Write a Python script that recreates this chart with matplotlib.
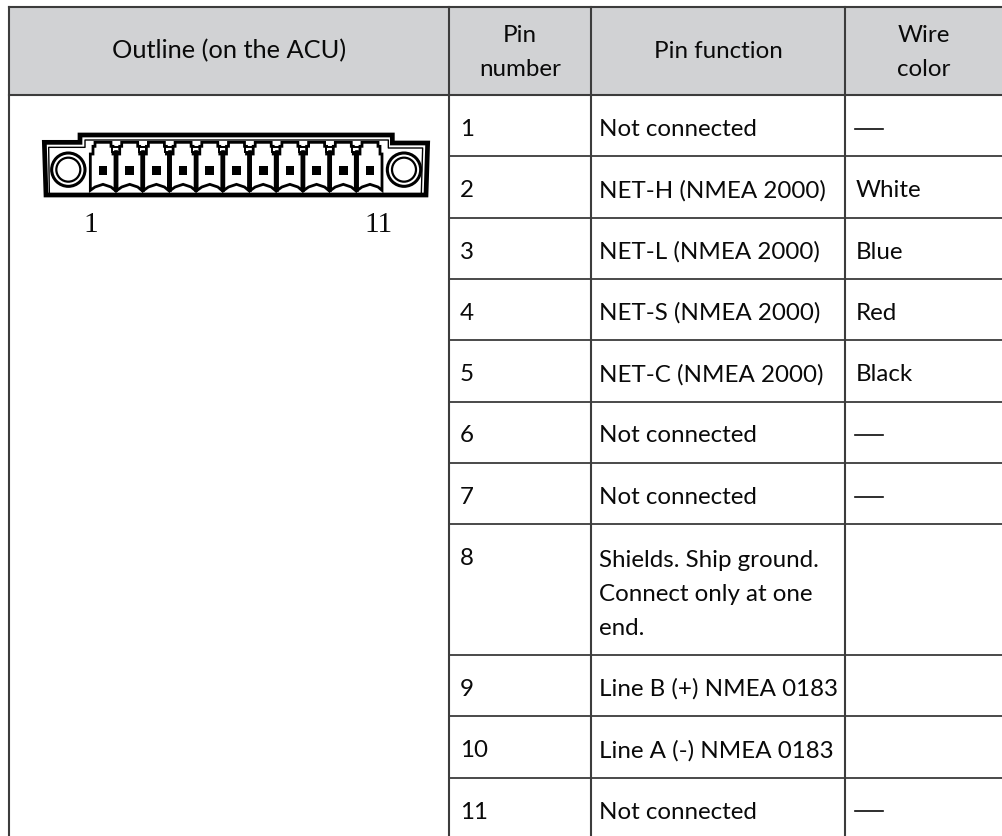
import matplotlib
matplotlib.use("Agg")
import matplotlib.pyplot as plt
from matplotlib.patches import Circle, Polygon, Rectangle

W, H = 1003, 837
FONT = "Lato"
SIZE = 17.4
SPACING = 1.78
LINE = "#3c3c3c"
HEAD = "#d1d2d4"
INK = "#0a0a0a"

headers = ["Outline (on the ACU)", "Pin\nnumber", "Pin function", "Wire\ncolor"]
header_base = [58, 76, 58, 76]
header_size = [18.3, SIZE, SIZE, SIZE]
pins = ["1", "2", "3", "4", "5", "6", "7", "8", "9", "10", "11"]
functions = ["Not connected", "NET-H (NMEA 2000)", "NET-L (NMEA 2000)",
             "NET-S (NMEA 2000)", "NET-C (NMEA 2000)", "Not connected",
             "Not connected", "Shields. Ship ground.\nConnect only at one\nend.",
             "Line B (+) NMEA 0183", "Line A (-) NMEA 0183", "Not connected"]
wires = ["\u2014", "White", "Blue", "Red", "Black", "\u2014", "\u2014", "", "", "", "\u2014"]

col_x = [9, 449.5, 590.7, 845.3, 1003]
row_y = [8, 96, 157.3, 219, 280, 341.3, 402.5, 464, 525.3, 655.7, 717.3, 778.7, 837]

fig = plt.figure(figsize=(W / 100, H / 100), dpi=100)
ax = fig.add_axes([0, 0, 1, 1])
ax.set_xlim(0, W)
ax.set_ylim(H, 0)
ax.axis("off")

# header band and grid
ax.add_patch(Rectangle((col_x[0], row_y[0]), W - col_x[0], row_y[1] - row_y[0], fc=HEAD, ec="none"))
ax.plot([col_x[0], W], [row_y[0], row_y[0]], color=LINE, lw=1.5)
ax.plot([col_x[0], W], [row_y[1], row_y[1]], color=LINE, lw=1.5)
for y in row_y[2:-1]:
    ax.plot([col_x[1], W], [y, y], color=LINE, lw=1.3)
for x in col_x[:-1]:
    ax.plot([x, x], [row_y[0], H], color=LINE, lw=1.5)

for i, h in enumerate(headers):
    ax.text((col_x[i] + col_x[i + 1]) / 2, header_base[i], h, ha="center", va="baseline", ma="center",
            family=FONT, fontsize=header_size[i], color=INK, linespacing=SPACING)

for i, pin in enumerate(pins):
    base = row_y[i + 1] + 40
    # multi-line text sits on its last line
    last = base + 35 * functions[i].count("\n")
    ax.text(460, base, pin, ha="left", va="baseline", family=FONT, fontsize=SIZE, color=INK)
    ax.text(599.5, last, functions[i], ha="left", va="baseline", family=FONT, fontsize=SIZE,
            color=INK, linespacing=SPACING)
    if wires[i] == "\u2014":
        ax.plot([855.5, 883], [base - 6.5, base - 6.5], color=INK, lw=1.2)
    elif wires[i]:
        ax.text(855.5, base, wires[i], ha="left", va="baseline", family=FONT, fontsize=SIZE, color=INK)


# connector, sketched from the crop (3x, origin 0,60)
def px(x, y):
    return x / 3, 60 + y / 3


body = [(133, 250), (240, 250), (240, 228), (1177, 228), (1177, 252), (1283, 252), (1278, 408), (138, 408)]
ax.add_patch(Polygon([px(*p) for p in body], closed=True, fc="white", ec="black", lw=3.4, joinstyle="miter"))
ax.plot(*zip(*[px(148, 400), px(146, 265), px(255, 265), px(255, 243), px(1165, 243),
               px(1165, 267), px(1268, 267), px(1264, 400)]), color="black", lw=1.0)

n_pins = len(pins)
for i in range(n_pins):
    c = 309 + 80.1 * i
    outline = [(c - 24, 250), (c + 24, 250), (c + 24, 262), (c + 30, 262), (c + 30, 285), (c + 36, 285),
               (c + 36, 394), (c + 24, 384), (c, 376), (c - 24, 384), (c - 38, 394), (c - 38, 285),
               (c - 30, 285), (c - 30, 262), (c - 24, 262)]
    ax.add_patch(Polygon([px(*p) for p in outline], closed=True, fc="white", ec="black", lw=2.0, joinstyle="miter"))
    sx, sy = px(c - 13, 322)
    ax.add_patch(Rectangle((sx, sy), 26 / 3, 26 / 3, fc="black", ec="none"))
    if i < n_pins - 1:
        ax.plot(*zip(*[px(c + 40, 280), px(c + 40, 394)]), color="black", lw=2.6)
        gx, gy = px(c + 27, 264)
        ax.add_patch(Rectangle((gx, gy), 26 / 3, 16 / 3, fc="white", ec="black", lw=1.4))

for cx in (205, 1212):
    x0, y0 = px(cx, 332)
    ax.add_patch(Circle((x0, y0), 50 / 3, fc="white", ec="black", lw=2.2))
    ax.add_patch(Circle((x0, y0), 36 / 3, fc="white", ec="black", lw=1.6))

ax.text(91, 232, "1", ha="center", va="baseline", family="Liberation Serif", fontsize=21, color=INK)
ax.text(379, 232, "11", ha="center", va="baseline", family="Liberation Serif", fontsize=21, color=INK)

fig.savefig("out.png", dpi=100)
